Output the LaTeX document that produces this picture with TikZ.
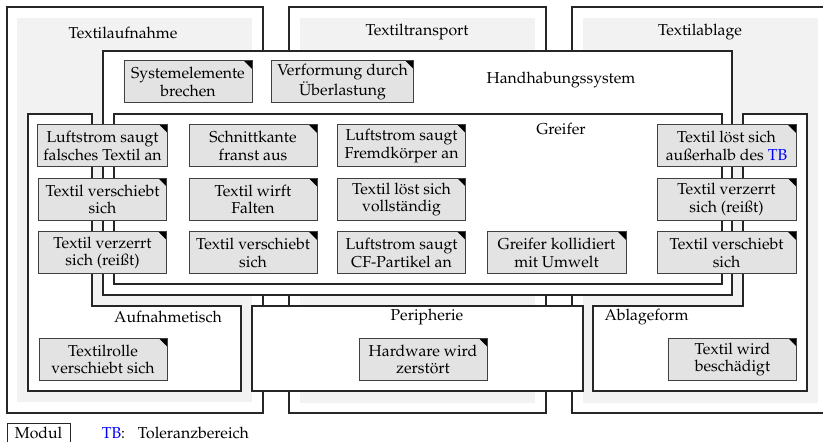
\documentclass[tikz,border=0pt]{standalone}
\usepackage[T1]{fontenc}
\usepackage{mathpazo}
\begin{document}
\begin{tikzpicture}[x=0.5pt,y=-0.5pt,
  font=\fontsize{7.9}{8.9}\selectfont,
  modframe/.style={draw=black!85, line width=0.6pt, fill=white},
  modfill/.style={fill=black!5, draw=none},
  partbox/.style={draw=black!85, line width=0.6pt, fill=white},
  failure/.style={draw=black!75, line width=0.5pt, fill=black!11, align=center,
    minimum width=64pt, minimum height=21pt, inner xsep=3pt, inner ysep=1pt,
    path picture={\fill[black] (path picture bounding box.north east)
      -- ++(-4pt,0) -- ++(4pt,-4pt) -- cycle;}},
  wide/.style={minimum width=69.5pt},
  title/.style={inner sep=0pt}
]
\useasboundingbox (0,0) rectangle (823,442);

% modules of the process chain
\draw[modframe] (7,7) rectangle (263,413);
\fill[modfill] (17,18) rectangle (252,402);
\draw[modframe] (289,7) rectangle (546,413);
\fill[modfill] (300,18) rectangle (535,403);
\draw[modframe] (572,7) rectangle (832,413);
\fill[modfill] (583,18) rectangle (818,403);

% handling system spanning all modules
\draw[partbox] (103,51) rectangle (732,295);

% table and tray (L-shaped outlines)
\draw[partbox] (28,114) -- (92,114) -- (92,306) -- (241,306) -- (241,391) -- (28,391) -- cycle;
\draw[partbox] (743,114) -- (807,114) -- (807,391) -- (593,391) -- (593,306) -- (743,306) -- cycle;

% periphery
\draw[partbox] (252,306) rectangle (583,391);

% gripper
\draw[partbox] (114,114) rectangle (722,284);

% titles
\node[title] (tAuf) at (123,33) {Textilaufnahme};
\node[title] (tTra) at (417,32) {Textiltransport};
\node[title] (tAbl) at (700,32) {Textilablage};
\node[title] (tHan) at (561,80) {Handhabungssystem};
\node[title] (tGre) at (561,129) {Greifer};
\node[title] (tTis) at (168,317) {Aufnahmetisch};
\node[title] (tPer) at (427,317) {Peripherie};
\node[title] (tFor) at (646.5,317) {Ablageform};

% failure modes: handling system
\node[failure] (f01) at (188,82) {Systemelemente\\brechen};
\node[failure,wide] (f02) at (342.5,82) {Verformung durch\\\"Uberlastung};

% failure modes: gripper
\node[failure] (f11) at (102.5,146) {Luftstrom saugt\\falsches Textil an};
\node[failure] (f12) at (253,146) {Schnittkante\\franst aus};
\node[failure] (f13) at (401.5,146) {Luftstrom saugt\\Fremdk\"orper an};
\node[failure,wide] (f15) at (726.5,146) {Textil l\"ost sich\\au\ss{}erhalb des \textcolor{blue}{TB}};

\node[failure] (f21) at (102.5,199.5) {Textil verschiebt\\sich};
\node[failure] (f22) at (253,199.5) {Textil wirft\\Falten};
\node[failure] (f23) at (401.5,199.5) {Textil l\"ost sich\\vollst\"andig};
\node[failure,wide] (f25) at (726.5,199.5) {Textil verzerrt\\sich (rei\ss{}t)};

\node[failure] (f31) at (102.5,253) {Textil verzerrt\\sich (rei\ss{}t)};
\node[failure] (f32) at (253,253) {Textil verschiebt\\sich};
\node[failure] (f33) at (401.5,253) {Luftstrom saugt\\CF-Partikel an};
\node[failure,wide] (f34) at (556.5,253) {Greifer kollidiert\\mit Umwelt};
\node[failure,wide] (f35) at (726.5,253) {Textil verschiebt\\sich};

% failure modes: table, periphery, tray
\node[failure] (f41) at (103,359.5) {Textilrolle\\verschiebt sich};
\node[failure] (f42) at (423,359.5) {Hardware wird\\zerst\"ort};
\node[failure] (f43) at (732.5,359.5) {Textil wird\\besch\"adigt};

% legend
\draw[draw=black!85, line width=0.5pt] (7,423) rectangle (70,452);
\node[title] (lgMod) at (38.5,433) {Modul};
\node[title, anchor=west] (lgTB) at (101.5,433) {\textcolor{blue}{TB}:};
\node[title, anchor=west] (lgTxt) at (137.5,433) {Toleranzbereich};
\end{tikzpicture}
\end{document}
